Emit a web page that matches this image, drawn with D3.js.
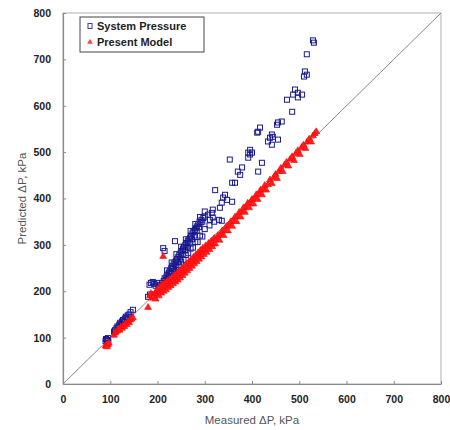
<!DOCTYPE html>
<html>
<head>
<meta charset="utf-8">
<script src="https://cdn.jsdelivr.net/npm/d3@7"></script>
<style>
  html, body { margin: 0; padding: 0; background: #fff; }
  svg { display: block; }
  text { font-family: Arial, "Liberation Sans", sans-serif; }
</style>
</head>
<body>
<svg id="chart" width="450" height="430"></svg>
<script>
// ---- data (measured kPa, predicted kPa) ----
const xTicks = [0, 100, 200, 300, 400, 500, 600, 700, 800];
const yTicks = [0, 100, 200, 300, 400, 500, 600, 700, 800];
const seriesNames = ["System Pressure", "Present Model"];
const xTitle = "Measured \u0394P, kPa";
const yTitle = "Predicted \u0394P, kPa";

const systemPressure = [
  [90,93],[91,97],[93,95],[95,99],[96,92],
  [108,113],[110,116],[113,120],[115,124],[117,122],[119,128],[121,132],[123,129],[125,135],[127,138],[129,134],[131,141],[133,145],[135,142],[137,148],[140,150],[143,155],[148,160],
  [180,188],[184,193],[188,191],[183,214],[186,218],[190,220],[193,216],[196,212],[199,218],[202,210],[205,214],
  [212,293],[215,287],[237,308],
  [210,218],[213,222],[215,228],[217,225],[219,232],[221,236],[223,230],[224,240],[226,244],[228,238],[229,250],[231,254],[233,248],[234,258],[236,262],[238,256],[239,266],[241,270],[243,262],[244,274],[246,278],[248,270],[249,283],[251,287],[253,280],[254,292],[256,296],[258,288],[259,300],[261,304],[263,296],[264,308],[266,312],[268,305],[269,316],[271,320],[273,312],[274,325],[276,328],[278,320],[279,332],[281,336],[283,330],[284,340],[286,345],[288,338],[289,350],[291,348],[293,354],[295,350],[297,358],
  [220,226],[230,240],[240,252],[250,264],[260,278],[270,292],[280,306],[290,320],[300,334],[310,342],[320,350],[330,354],[336,352],
  [225,232],[235,244],[245,256],[255,268],[265,282],[275,294],[285,306],[295,318],
  [220,245],[230,262],[240,280],[250,296],[260,312],[270,330],[280,345],[290,360],[300,372],
  [300,361],[307,365],[311,354],[315,369],[317,359],[317,376],[322,418],[332,380],[336,391],[339,402],[343,408],[347,397],[358,393],
  [358,434],[364,434],[370,458],[375,451],[379,467],[353,484],[392,488],[396,495],[400,499],[392,499],[396,505],[413,458],[421,477],
  [411,542],[413,544],[417,553],[434,523],[438,531],[442,538],[444,533],[442,516],[455,527],[453,559],[455,564],[463,566],
  [474,613],[485,587],[487,624],[491,635],[497,628],[497,618],[506,624],[510,663],[512,674],[516,667],[516,711],[529,741],[531,736]
];

const presentModel = [
  [90,82],[92,85],[93,80],[95,84],[97,88],
  [108,105],[110,110],[112,112],[115,115],[118,118],[120,116],[122,122],[125,120],[127,125],[130,124],[132,130],[135,128],[138,135],[140,132],[142,138],[145,140],[148,143],
  [180,165],[184,190],[186,195],[188,185],[190,192],[192,188],[195,196],[198,200],[196,183],
  [212,275],
  [200,195],[201,205],[203,190],[205,200],[206,210],[208,196],[210,204],[211,214],[213,200],[215,208],[216,218],[218,203],[220,212],[221,222],[223,208],[225,216],[226,226],[228,212],[230,221],[231,230],[233,216],[235,225],[236,234],[238,220],[240,229],[241,238],[243,224],[245,234],[246,243],[248,229],[250,239],[251,248],[253,234],[255,244],[256,253],[258,239],[260,249],[261,258],[263,244],[265,254],[266,263],[268,249],[270,259],[271,268],[273,254],[275,264],[276,273],[278,259],[280,269],[281,278],[283,264],[285,274],[286,283],[288,269],[290,280],[291,288],[293,274],[295,285],[296,293],[298,279],
  [300,290],[302,298],[304,284],[306,295],[308,303],[310,290],[312,300],[314,308],[316,296],[318,306],[320,314],[322,302],[325,312],[328,320],[331,310],[334,322],[337,330],[340,320],[343,332],[346,340],[349,330],[352,342],[355,350],[358,340],[361,352],[364,360],[367,350],[370,362],[373,370],[376,360],[379,372],[382,380],[385,370],[388,382],[391,390],[394,380],[397,392],
  [400,398],[403,388],[406,400],[409,408],[412,398],[415,410],[418,418],[421,408],[424,420],[427,428],[430,418],[434,430],[438,440],[442,432],[446,445],[450,452],[453,443],[457,458],[461,465],[465,458],[469,472],[473,478],[477,470],[481,485],[485,490],[489,482],[493,497],[497,503],[501,495],[505,510],[509,515],[513,508],[517,522],[521,528],[525,522],[529,535],[533,540],[536,544]
];

// ---- layout ----
const svg = d3.select("#chart");
const mLeft = 63, mRight = 441, mTop = 13, mBottom = 384;
const x = d3.scaleLinear().domain([0, 800]).range([mLeft, mRight]);
const y = d3.scaleLinear().domain([0, 800]).range([mBottom, mTop]);

// frame
svg.append("rect").attr("x", mLeft).attr("y", mTop)
  .attr("width", mRight - mLeft).attr("height", mBottom - mTop)
  .attr("fill", "none").attr("stroke", "#bdbdbd").attr("stroke-width", 1.2);

// diagonal
svg.append("line")
  .attr("x1", x(0)).attr("y1", y(0)).attr("x2", x(800)).attr("y2", y(800))
  .attr("stroke", "#8a8a8a").attr("stroke-width", 1);

// axes
const xAxis = svg.append("g").attr("transform", `translate(0,${mBottom})`)
  .call(d3.axisBottom(x).tickValues(xTicks).tickSizeInner(-3).tickSizeOuter(0).tickPadding(12));
const yAxis = svg.append("g").attr("transform", `translate(${mLeft},0)`)
  .call(d3.axisLeft(y).tickValues(yTicks).tickSizeInner(-3).tickSizeOuter(0).tickPadding(12));
[xAxis, yAxis].forEach(g => {
  g.select(".domain").attr("stroke", "#8a8a8a").attr("stroke-width", 1.2);
  g.selectAll(".tick line").attr("stroke", "#8a8a8a");
  g.selectAll(".tick text").attr("font-size", 10.5).attr("font-weight", "bold")
    .attr("fill", "#222").attr("font-family", "Arial, 'Liberation Sans', sans-serif");
});

// titles
svg.append("text").attr("x", (mLeft + mRight) / 2).attr("y", 424)
  .attr("text-anchor", "middle").attr("font-size", 11.5).attr("fill", "#555")
  .text(xTitle);
svg.append("text").attr("transform", `translate(26,${(mTop + mBottom) / 2}) rotate(-90)`)
  .attr("text-anchor", "middle").attr("font-size", 11.5).attr("fill", "#555")
  .text(yTitle);

// points
const sq = 5;
svg.append("g").selectAll("rect").data(systemPressure).join("rect")
  .attr("x", d => x(d[0]) - sq / 2).attr("y", d => y(d[1]) - sq / 2)
  .attr("width", sq).attr("height", sq)
  .attr("fill", "none").attr("stroke", "#1a1a8f").attr("stroke-width", 1);

const tri = d3.symbol().type(d3.symbolTriangle).size(20);
svg.append("g").selectAll("path").data(presentModel).join("path")
  .attr("transform", d => `translate(${x(d[0])},${y(d[1])})`)
  .attr("d", tri)
  .attr("fill", "#ff2020").attr("stroke", "#ff0000").attr("stroke-width", 0.6);

// legend
const lg = svg.append("g");
lg.append("rect").attr("x", 80).attr("y", 17).attr("width", 124).attr("height", 35)
  .attr("fill", "#fff").attr("stroke", "#444").attr("stroke-width", 1);
lg.append("rect").attr("x", 88).attr("y", 23.5).attr("width", 4).attr("height", 5)
  .attr("fill", "none").attr("stroke", "#3a3aa8").attr("stroke-width", 1);
lg.append("path").attr("transform", "translate(90,42)")
  .attr("d", d3.symbol().type(d3.symbolTriangle).size(14))
  .attr("fill", "#ff4040");
lg.selectAll("text.lt").data(seriesNames).join("text").attr("class", "lt")
  .attr("x", 97).attr("y", (d, i) => 30 + i * 16)
  .attr("font-size", 11).attr("font-weight", "bold").attr("fill", "#222")
  .text(d => d);
</script>
</body>
</html>
